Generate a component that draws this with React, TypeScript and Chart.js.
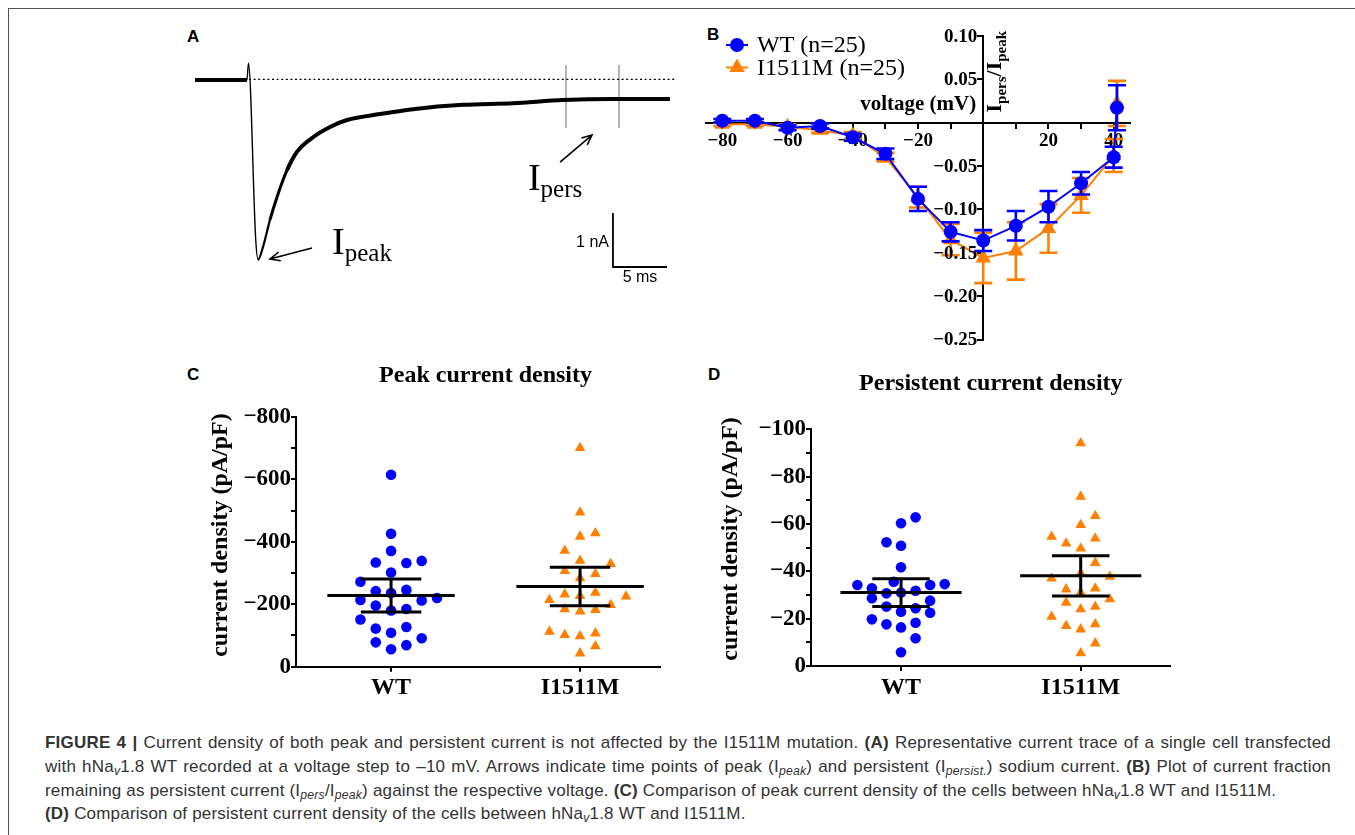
import React, { useEffect, useRef } from "react";
import { Chart, registerables } from "chart.js";

Chart.register(...registerables);

const SERIF = '"Liberation Serif", "Times New Roman", Times, serif';
const SANS = '"Liberation Sans", Arial, Helvetica, sans-serif';
const BLUE = "#0000ff";
const ORANGE = "#ff8000";
const MINUS = "\u2212";

// ---------------- Panel A: representative trace ----------------
const traceTimeMs = [0, 4.81, 4.95, 5.62, 5.83, 6.3, 6.94, 7.59, 8.52, 9.44, 10.93, 12.5, 14.07, 17.13, 20.19, 24.81, 29.44, 34.07, 38.7, 43.98];
const traceCurrentNA = [0, 0, 0.31, -2.95, -3.33, -3.09, -2.59, -2.17, -1.67, -1.33, -1.06, -0.87, -0.74, -0.63, -0.54, -0.46, -0.43, -0.37, -0.35, -0.35];
const baselineTimes = [5.0, 44.5];
const baselineLevel = 0.013;
const persMarkerTimes = [34.35, 39.26];
const persMarkerRange = [0.28, -0.89];
const scaleBarTime = [38.7, 43.7]; // 5 ms
const scaleBarCurrent = [-2.463, -3.463]; // 1 nA
const peakArrow = [[10.83, -3.111], [6.94, -3.315]];
const persArrow = [[33.8, -1.519], [36.76, -1.019]];
const peakLabelPos = [12.69, -3.213];
const persLabelPos = [30.83, -2.028];

// ---------------- Panel B: Ipers/Ipeak vs voltage ----------------
const voltages = [-80, -70, -60, -50, -40, -30, -20, -10, 0, 10, 20, 30, 40, 41];
const wtRatio = [0.002, 0.002, -0.006, -0.004, -0.017, -0.036, -0.088, -0.126, -0.136, -0.119, -0.097, -0.07, -0.04, 0.017];
const wtRatioErr = [0.002, 0.002, 0.003, 0.003, 0.004, 0.006, 0.014, 0.011, 0.012, 0.017, 0.018, 0.013, 0.012, 0.026];
const mutRatio = [-0.002, -0.002, -0.005, -0.009, -0.015, -0.04, -0.086, -0.135, -0.156, -0.148, -0.122, -0.084, -0.038, 0.022];
const mutRatioErr = [0.002, 0.002, 0.003, 0.003, 0.004, 0.005, 0.012, 0.018, 0.029, 0.033, 0.028, 0.02, 0.019, 0.026];
const voltageTicks = [-80, -70, -60, -50, -40, -30, -20, -10, 0, 10, 20, 30, 40];
const ratioTicks = [-0.25, -0.2, -0.15, -0.1, -0.05, 0, 0.05, 0.1];

// ---------------- Panel C: peak current density ----------------
const groups = ["WT", "I1511M"];
const wtPeak = [-615, -426, -371, -334, -332, -339, -302, -272, -242, -236, -246, -214, -212, -220, -196, -180, -185, -151, -122, -127, -109, -91, -78, -69, -56];
const wtPeakSlot = [0, 0, 0, -1, 1, 2, 0, -2, -1, 0, 1, -2, 2, 3, -1, 0, 1, -2, -1, 1, 0, 2, -1, 1, 0];
const mutPeak = [-701, -494, -417, -428, -372, -340, -329, -307, -297, -284, -214, -232, -227, -237, -225, -198, -184, -177, -182, -112, -102, -98, -107, -66, -43];
const mutPeakSlot = [0, 0, 0, 1, -1, 0, 2, -1, 1, 0, -2, -1, 0, 1, 3, 2, -1, 0, 1, -2, -1, 0, 1, 1, 0];
const peakMean = [-228, -257];
const peakSem = [53, 62];
const peakTicks = [-800, -700, -600, -500, -400, -300, -200, -100, 0];

// ---------------- Panel D: persistent current density ----------------
const wtPers = [-62.8, -60.3, -52.3, -50.8, -41.7, -34.2, -32.8, -35.6, -30.7, -31, -31.8, -34.2, -34.6, -28.6, -27.6, -25.1, -24.4, -22.9, -22.5, -19.7, -17.6, -16.3, -18.3, -11.7, -5.8];
const wtPersSlot = [1, 0, -1, 0, 0, -3, -2, -0.5, -1, 0, 1, 2, 3, -2, 2, -1, 1, 0, 2, -2, -1, 0, 1, 1, 0];
const mutPers = [-94.1, -71.5, -63.4, -59.6, -54.6, -51.8, -53.9, -49.7, -43.6, -37.0, -39.2, -37.7, -32.4, -31.1, -32.8, -28.2, -26.8, -24.0, -25.1, -20.8, -16.9, -15.5, -17.7, -9.6, -5.4];
const mutPersSlot = [0, 0, 1, 0, -2, -1, 1, 0, 1, -2, 0, 2, -1, 0, 1, 2, -1, 0, 1, -2, -1, 0, 1, 1, 0];
const persMean = [-31, -38.1];
const persSem = [5.85, 8.5];
const persTicks = [-100, -90, -80, -70, -60, -50, -40, -30, -20, -10, 0];

const SLOT_STEP = 0.081;

const fmtNum = (v: number, d = 0) => {
  const s = Math.abs(v).toFixed(d);
  return v < 0 ? MINUS + s : s;
};

// ---------- plugins ----------
function drawArrow(ctx: CanvasRenderingContext2D, x1: number, y1: number, x2: number, y2: number) {
  const ang = Math.atan2(y2 - y1, x2 - x1);
  const L = 11;
  ctx.beginPath();
  ctx.moveTo(x1, y1);
  ctx.lineTo(x2, y2);
  ctx.moveTo(x2 - L * Math.cos(ang - 0.42), y2 - L * Math.sin(ang - 0.42));
  ctx.lineTo(x2, y2);
  ctx.lineTo(x2 - L * Math.cos(ang + 0.42), y2 - L * Math.sin(ang + 0.42));
  ctx.stroke();
}

const aExtras = {
  id: "aExtras",
  afterDatasetsDraw(chart: any) {
    const { ctx, scales } = chart;
    const P = (t: number, v: number) => [scales.x.getPixelForValue(t), scales.y.getPixelForValue(v)];
    ctx.save();
    ctx.strokeStyle = "#000";
    ctx.fillStyle = "#000";
    ctx.lineWidth = 1.6;
    [peakArrow, persArrow].forEach((a) => {
      const [x1, y1] = P(a[0][0], a[0][1]);
      const [x2, y2] = P(a[1][0], a[1][1]);
      drawArrow(ctx, x1, y1, x2, y2);
    });
    const labels: [number[], string][] = [
      [peakLabelPos, "peak"],
      [persLabelPos, "pers"],
    ];
    labels.forEach(([pos, sub]) => {
      const [lx, ly] = P(pos[0], pos[1]);
      ctx.textAlign = "left";
      ctx.textBaseline = "alphabetic";
      ctx.font = `38px ${SERIF}`;
      ctx.fillText("I", lx, ly);
      const w = ctx.measureText("I").width;
      ctx.font = `25px ${SERIF}`;
      ctx.fillText(sub, lx + w, ly + 7.4);
    });
    const [bx, byTop] = P(scaleBarTime[0], scaleBarCurrent[0]);
    const [, byBot] = P(scaleBarTime[0], scaleBarCurrent[1]);
    const [bx2] = P(scaleBarTime[1], scaleBarCurrent[1]);
    ctx.font = `16px ${SANS}`;
    ctx.textAlign = "right";
    ctx.fillText("1 nA", bx - 4, (byTop + byBot) / 2 + 6.5);
    ctx.textAlign = "center";
    ctx.fillText("5 ms", (bx + bx2) / 2, byBot + 15);
    ctx.restore();
  },
};

const errorBars = {
  id: "errorBars",
  afterDatasetDraw(chart: any, args: any) {
    const ds = chart.data.datasets[args.index];
    if (!ds.errors) return;
    const meta = args.meta;
    const ys = chart.scales[meta.yAxisID];
    const ctx = chart.ctx;
    ctx.save();
    ctx.strokeStyle = ds.borderColor;
    ctx.lineWidth = 2.6;
    meta.data.forEach((pt: any, i: number) => {
      const v = ds.data[i].y;
      const e = ds.errors[i];
      const yt = ys.getPixelForValue(v + e);
      const yb = ys.getPixelForValue(v - e);
      const x = pt.x;
      ctx.beginPath();
      ctx.moveTo(x, yt);
      ctx.lineTo(x, yb);
      if (Math.abs(yb - yt) > 3) {
        ctx.moveTo(x - 9, yt);
        ctx.lineTo(x + 9, yt);
        ctx.moveTo(x - 9, yb);
        ctx.lineTo(x + 9, yb);
      }
      ctx.stroke();
    });
    ctx.restore();
  },
};

const bExtras = {
  id: "bExtras",
  afterDraw(chart: any) {
    const { ctx, chartArea, scales } = chart;
    const x0 = scales.x.getPixelForValue(0);
    const y0 = scales.y.getPixelForValue(0);
    ctx.save();
    // y tick labels (left of the crossing axis)
    ctx.fillStyle = "#000";
    ctx.font = `bold 19px ${SERIF}`;
    ctx.textAlign = "right";
    ctx.textBaseline = "middle";
    scales.y.ticks.forEach((t: any) => {
      if (Math.abs(t.value) < 1e-9) return;
      ctx.fillText(fmtNum(t.value, 2), x0 - 6, scales.y.getPixelForValue(t.value) + 1);
    });
    // legend
    const lx = chartArea.left + 31;
    chart.data.datasets.forEach((ds: any, i: number) => {
      const ly = chartArea.top + 9.3 + i * 22.5;
      ctx.strokeStyle = ds.borderColor;
      ctx.fillStyle = ds.borderColor;
      ctx.lineWidth = 2;
      ctx.beginPath();
      ctx.moveTo(lx - 11, ly);
      ctx.lineTo(lx + 11, ly);
      ctx.stroke();
      ctx.beginPath();
      if (ds.pointStyle === "triangle") {
        const r = ds.pointRadius;
        ctx.moveTo(lx, ly - r);
        ctx.lineTo(lx + r * 0.866, ly + r * 0.5);
        ctx.lineTo(lx - r * 0.866, ly + r * 0.5);
        ctx.closePath();
      } else {
        ctx.arc(lx, ly, ds.pointRadius, 0, Math.PI * 2);
      }
      ctx.fill();
      ctx.fillStyle = "#000";
      ctx.font = `24px ${SERIF}`;
      ctx.textAlign = "left";
      ctx.textBaseline = "middle";
      ctx.fillText(ds.label, lx + 20, ly + 1);
    });
    // axis titles
    ctx.fillStyle = "#000";
    ctx.font = `bold 21px ${SERIF}`;
    ctx.textAlign = "right";
    ctx.textBaseline = "alphabetic";
    ctx.fillText("voltage (mV)", x0 - 7, y0 - 13);
    ctx.translate(x0 + 18, y0 - 10);
    ctx.rotate(-Math.PI / 2);
    ctx.textAlign = "left";
    let cx = 0;
    const parts: [string, boolean][] = [
      ["I", false],
      ["pers", true],
      ["/I", false],
      ["peak", true],
    ];
    parts.forEach(([t, sub]) => {
      ctx.font = sub ? `bold 15px ${SERIF}` : `bold 22px ${SERIF}`;
      ctx.fillText(t, cx, sub ? 5 : 0);
      cx += ctx.measureText(t).width;
    });
    ctx.restore();
  },
};

const meanSem = {
  id: "meanSem",
  afterDatasetsDraw(chart: any, _args: any, opts: any) {
    const { ctx, scales, chartArea } = chart;
    const X = (v: number) => scales.x.getPixelForValue(v);
    const Y = (v: number) => scales.y.getPixelForValue(v);
    ctx.save();
    ctx.strokeStyle = "#000";
    ctx.lineWidth = 3;
    opts.means.forEach((m: number, i: number) => {
      const c = i + 1;
      const s = opts.sems[i];
      ctx.beginPath();
      ctx.moveTo(X(c - 0.337), Y(m));
      ctx.lineTo(X(c + 0.337), Y(m));
      ctx.moveTo(X(c - 0.16), Y(m - s));
      ctx.lineTo(X(c + 0.16), Y(m - s));
      ctx.moveTo(X(c - 0.16), Y(m + s));
      ctx.lineTo(X(c + 0.16), Y(m + s));
      ctx.moveTo(X(c), Y(m - s));
      ctx.lineTo(X(c), Y(m + s));
      ctx.stroke();
    });
    ctx.fillStyle = "#000";
    ctx.font = `bold 24px ${SERIF}`;
    ctx.textAlign = "center";
    ctx.textBaseline = "middle";
    // chart title centred between the two groups
    ctx.fillText(opts.title, X(1.5), chartArea.top - opts.titleOffset);
    // y axis title
    ctx.translate(chartArea.left - opts.axisTitleDx, (chartArea.top + chartArea.bottom) / 2 - opts.axisTitleDy);
    ctx.rotate(-Math.PI / 2);
    ctx.fillText("current density (pA/pF)", 0, 0);
    ctx.restore();
  },
};

// ---------- configs ----------
const line = (xs: number[], ys: number[]) => xs.map((x, i) => ({ x, y: ys[i] }));

function makeA(): any {
  return {
    type: "scatter",
    data: {
      datasets: [
        {
          data: line(traceTimeMs, traceCurrentNA),
          showLine: true,
          borderColor: "#000",
          borderWidth: 4,
          pointRadius: 0,
          borderJoinStyle: "round",
          cubicInterpolationMode: "monotone",
          segment: {
            borderWidth: (c: any) => {
              const t1 = c.p1.parsed.x;
              const t0 = c.p0.parsed.x;
              if (t1 <= 4.82) return 4;
              if (t0 >= 4.8 && t1 <= 5.9) return 1.4;
              if (t1 <= 7.0) return 2.2;
              if (t1 <= 8.6) return 3;
              return 4;
            },
          },
        },
        {
          data: line(baselineTimes, [baselineLevel, baselineLevel]),
          showLine: true,
          borderColor: "#000",
          borderWidth: 1.3,
          borderDash: [2, 2.6],
          pointRadius: 0,
        },
        ...persMarkerTimes.map((t) => ({
          data: line([t, t], persMarkerRange),
          showLine: true,
          borderColor: "#8c8c8c",
          borderWidth: 1.3,
          pointRadius: 0,
        })),
        {
          data: line([scaleBarTime[0], scaleBarTime[0], scaleBarTime[1]], [scaleBarCurrent[0], scaleBarCurrent[1], scaleBarCurrent[1]]),
          showLine: true,
          borderColor: "#000",
          borderWidth: 1.8,
          pointRadius: 0,
        },
      ],
    },
    options: {
      animation: false,
      responsive: false,
      devicePixelRatio: 1,
      layout: { padding: 0, autoPadding: false },
      plugins: { legend: { display: false }, tooltip: { enabled: false } },
      scales: {
        x: { type: "linear", display: false, min: -0.926, max: 44.907 },
        y: { type: "linear", display: false, min: -3.889, max: 0.556 },
      },
    },
    plugins: [aExtras],
  };
}

function makeB(): any {
  const tickFont = { family: SERIF, size: 19, weight: "bold" };
  return {
    type: "scatter",
    data: {
      datasets: [
        {
          label: "WT (n=25)",
          data: line(voltages, wtRatio),
          errors: wtRatioErr,
          showLine: true,
          borderColor: BLUE,
          backgroundColor: BLUE,
          borderWidth: 2,
          pointStyle: "circle",
          pointRadius: 7,
          pointBorderWidth: 0,
        },
        {
          label: "I1511M (n=25)",
          data: line(voltages, mutRatio),
          errors: mutRatioErr,
          showLine: true,
          borderColor: ORANGE,
          backgroundColor: ORANGE,
          borderWidth: 2,
          pointStyle: "triangle",
          pointRadius: 9,
          pointBorderWidth: 0,
        },
      ],
    },
    options: {
      animation: false,
      responsive: false,
      devicePixelRatio: 1,
      layout: { padding: { left: 16, right: 20, top: 20.7, bottom: 20.5 }, autoPadding: false },
      plugins: { legend: { display: false }, tooltip: { enabled: false } },
      scales: {
        x: {
          type: "linear",
          min: -85,
          max: 45,
          position: { y: 0 },
          afterBuildTicks: (s: any) => {
            s.ticks = voltageTicks.map((value) => ({ value }));
          },
          ticks: {
            autoSkip: false,
            maxRotation: 0,
            padding: 2,
            color: "#000",
            font: tickFont,
            callback: (v: number) => (v % 20 === 0 && v !== 0 ? fmtNum(v) : ""),
          },
          grid: { drawOnChartArea: false, tickLength: 5, color: "#000", lineWidth: 2 },
          border: { display: true, color: "#000", width: 2 },
        },
        y: {
          type: "linear",
          min: -0.25,
          max: 0.1,
          position: { x: 0 },
          afterBuildTicks: (s: any) => {
            s.ticks = ratioTicks.map((value) => ({ value }));
          },
          ticks: {
            autoSkip: false,
            padding: 0,
            color: "#000",
            font: tickFont,
            callback: () => "",
          },
          grid: { drawOnChartArea: false, tickLength: 5, color: "#000", lineWidth: 2 },
          border: { display: true, color: "#000", width: 2 },
        },
      },
    },
    plugins: [errorBars, bExtras],
  };
}

function makeDots(opts: {
  wt: number[];
  wtSlot: number[];
  mut: number[];
  mutSlot: number[];
  means: number[];
  sems: number[];
  ticks: number[];
  labelStep: number;
  xmin: number;
  xmax: number;
  title: string;
  titleOffset: number;
  padTop: number;
  yWidth: number;
  xHeight: number;
  axisTitleDx: number;
  axisTitleDy: number;
}): any {
  const tickFont = { family: SERIF, size: 23, weight: "bold" };
  const ymin = opts.ticks[0];
  return {
    type: "scatter",
    data: {
      datasets: [
        {
          label: groups[0],
          data: opts.wt.map((v, i) => ({ x: 1 + opts.wtSlot[i] * SLOT_STEP, y: v })),
          backgroundColor: BLUE,
          borderWidth: 0,
          pointStyle: "circle",
          pointRadius: 5.3,
        },
        {
          label: groups[1],
          data: opts.mut.map((v, i) => ({ x: 2 + opts.mutSlot[i] * SLOT_STEP, y: v })),
          backgroundColor: ORANGE,
          borderWidth: 0,
          pointStyle: "triangle",
          pointRadius: 6.2,
        },
      ],
    },
    options: {
      animation: false,
      responsive: false,
      devicePixelRatio: 1,
      layout: { padding: { left: 0, right: 10, top: opts.padTop, bottom: 0 }, autoPadding: false },
      plugins: {
        legend: { display: false },
        tooltip: { enabled: false },
        meanSem: {
          means: opts.means,
          sems: opts.sems,
          title: opts.title,
          titleOffset: opts.titleOffset,
          axisTitleDx: opts.axisTitleDx,
          axisTitleDy: opts.axisTitleDy,
        },
      },
      scales: {
        x: {
          type: "linear",
          min: opts.xmin,
          max: opts.xmax,
          afterBuildTicks: (s: any) => {
            s.ticks = groups.map((_, i) => ({ value: i + 1 }));
          },
          afterFit: (s: any) => {
            s.height = opts.xHeight;
          },
          ticks: {
            autoSkip: false,
            maxRotation: 0,
            padding: 2,
            color: "#000",
            font: { family: SERIF, size: 24, weight: "bold" },
            callback: (v: number) => groups[Math.round(v) - 1],
          },
          grid: { drawOnChartArea: false, tickLength: 5, color: "#000", lineWidth: 2 },
          border: { display: true, color: "#000", width: 2 },
        },
        y: {
          type: "linear",
          reverse: true,
          min: ymin,
          max: 0,
          afterBuildTicks: (s: any) => {
            s.ticks = opts.ticks.map((value) => ({ value }));
          },
          afterFit: (s: any) => {
            s.width = opts.yWidth;
          },
          ticks: {
            autoSkip: false,
            padding: 0,
            color: "#000",
            font: tickFont,
            callback: (v: number) => (Math.round(v) % opts.labelStep === 0 ? fmtNum(v) : ""),
          },
          grid: { drawOnChartArea: false, tickLength: 5, color: "#000", lineWidth: 2 },
          border: { display: true, color: "#000", width: 2 },
        },
      },
    },
    plugins: [meanSem],
  };
}

function ChartBox({ left, top, width, height, make }: { left: number; top: number; width: number; height: number; make: () => any }) {
  const ref = useRef<HTMLCanvasElement>(null);
  useEffect(() => {
    const chart = new Chart(ref.current as HTMLCanvasElement, make());
    return () => chart.destroy();
  }, []);
  return <canvas ref={ref} width={width} height={height} style={{ position: "absolute", left, top, width, height }} />;
}

const letterStyle = (left: number, top: number): React.CSSProperties => ({
  position: "absolute",
  left,
  top,
  font: `bold 17px ${SANS}`,
  lineHeight: "17px",
  color: "#000",
});

const subStyle: React.CSSProperties = { fontSize: "0.72em", verticalAlign: "-0.28em", lineHeight: 0, fontStyle: "italic" };

function Sub({ children }: { children: React.ReactNode }) {
  return <span style={subStyle}>{children}</span>;
}

export default function App() {
  const capLine = (top: number, justify: boolean): React.CSSProperties =>
    ({
      position: "absolute",
      left: 45,
      top,
      width: 1286,
      whiteSpace: "nowrap",
      textAlign: justify ? "justify" : "left",
      textAlignLast: justify ? "justify" : "auto",
      font: `17px ${SANS}`,
      letterSpacing: "0.2px",
      lineHeight: "23.8px",
      color: "#333",
    } as React.CSSProperties);
  return (
    <div style={{ position: "absolute", left: 0, top: 0, width: 1355, height: 835, background: "#fff", overflow: "hidden" }}>
      <div style={{ position: "absolute", left: 8, top: 8, width: 1400, height: 900, borderTop: "1px solid #555", borderLeft: "1px solid #555" }} />
      <div style={letterStyle(187, 28)}>A</div>
      <div style={letterStyle(707, 26)}>B</div>
      <div style={letterStyle(187, 366)}>C</div>
      <div style={letterStyle(708, 366)}>D</div>

      <ChartBox left={185} top={50} width={495} height={240} make={makeA} />
      <ChartBox left={690} top={15} width={460} height={345} make={makeB} />
      <ChartBox
        left={195}
        top={355}
        width={475}
        height={345}
        make={() =>
          makeDots({
            wt: wtPeak,
            wtSlot: wtPeakSlot,
            mut: mutPeak,
            mutSlot: mutPeakSlot,
            means: peakMean,
            sems: peakSem,
            ticks: peakTicks,
            labelStep: 200,
            xmin: 0.497,
            xmax: 2.423,
            title: "Peak current density",
            titleOffset: 41,
            padTop: 62,
            yWidth: 101,
            xHeight: 33.3,
            axisTitleDx: 75,
            axisTitleDy: 6.8,
          })
        }
      />
      <ChartBox
        left={700}
        top={355}
        width={480}
        height={345}
        make={() =>
          makeDots({
            wt: wtPers,
            wtSlot: wtPersSlot,
            mut: mutPers,
            mutSlot: mutPersSlot,
            means: persMean,
            sems: persSem,
            ticks: persTicks,
            labelStep: 20,
            xmin: 0.499,
            xmax: 2.497,
            title: "Persistent current density",
            titleOffset: 45.3,
            padTop: 74.3,
            yWidth: 111,
            xHeight: 34,
            axisTitleDx: 80,
            axisTitleDy: 8.7,
          })
        }
      />

      <div style={capLine(731, true)}>
        <b>FIGURE 4 |</b> Current density of both peak and persistent current is not affected by the I1511M mutation. <b>(A)</b> Representative current trace of a single cell transfected
      </div>
      <div style={capLine(754.8, true)}>
        with hNa<Sub>v</Sub>1.8 WT recorded at a voltage step to –10 mV. Arrows indicate time points of peak (I<Sub>peak</Sub>) and persistent (I<Sub>persist.</Sub>) sodium current. <b>(B)</b> Plot of current fraction
      </div>
      <div style={capLine(778.6, false)}>
        remaining as persistent current (I<Sub>pers</Sub>/I<Sub>peak</Sub>) against the respective voltage. <b>(C)</b> Comparison of peak current density of the cells between hNa<Sub>v</Sub>1.8 WT and I1511M.
      </div>
      <div style={capLine(802.4, false)}>
        <b>(D)</b> Comparison of persistent current density of the cells between hNa<Sub>v</Sub>1.8 WT and I1511M.
      </div>
    </div>
  );
}
